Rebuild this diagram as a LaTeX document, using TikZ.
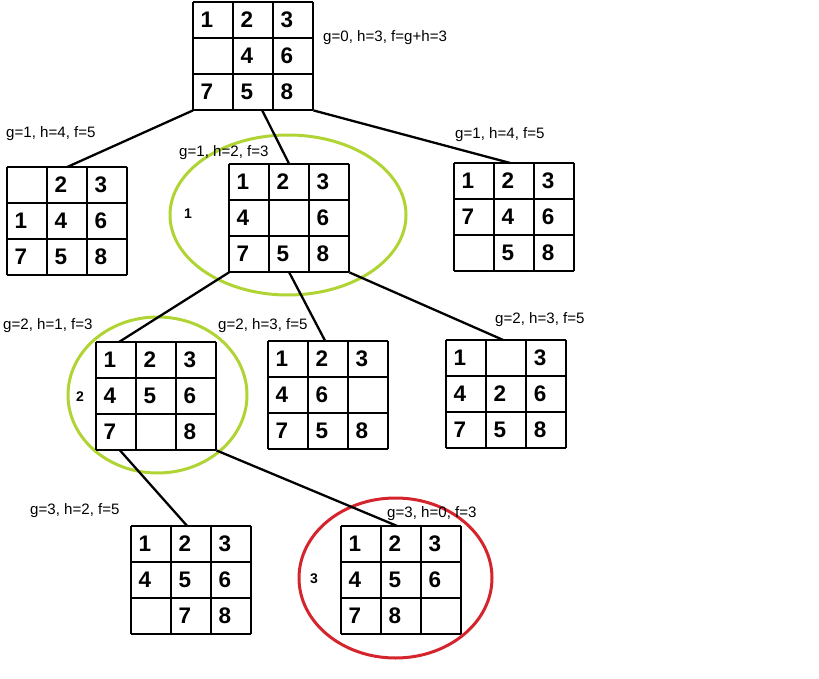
\documentclass[tikz,border=0pt]{standalone}
\usepackage{fontspec}
\setmainfont{Liberation Sans}
\definecolor{lime}{RGB}{176,212,52}
\definecolor{goalred}{RGB}{212,36,44}

\tikzset{
  board/.style={minimum width=120pt, minimum height=108pt, inner sep=0pt, anchor=north west},
  cell/.style={line width=1.2pt},
  tile/.style={inner sep=0pt, font=\fontsize{22.5}{22.5}\bfseries\selectfont},
  score/.style={anchor=base west, inner sep=0pt, font=\fontsize{15.1}{16}\selectfont},
  step no/.style={inner sep=0pt, font=\fontsize{14}{14}\bfseries\selectfont},
  edge/.style={line width=2.3pt},
}

% 3x3 board: name, north west corner, tiles row by row
\newcommand{\drawboard}[3]{%
  \node[board] (#1) at (#2) {};
  \foreach \i in {0,...,3} {
    \draw[cell] ([xshift=\i*40pt]#1.north west) -- ([xshift=\i*40pt]#1.south west);
    \draw[cell] ([yshift=-\i*36pt]#1.north west) -- ([yshift=-\i*36pt]#1.north east);
  }
  \foreach \d [count=\k from 0] in {#3} {
    \pgfmathtruncatemacro{\c}{mod(\k,3)}
    \pgfmathtruncatemacro{\r}{div(\k,3)}
    \node[tile] (#1-\k) at ([xshift=\c*40pt+14pt, yshift=-\r*36pt-18pt]#1.north west) {\d};
  }
}

\begin{document}
\begin{tikzpicture}[x=1pt, y=-1pt]
  \useasboundingbox (0,0) rectangle (819,679);

  % chosen path
  \draw[lime, line width=3pt] (288,215) ellipse [x radius=118, y radius=80];
  \draw[lime, line width=3pt] (157.5,395) ellipse [x radius=89.5, y radius=78];
  \draw[goalred, line width=3pt] (395.5,578) ellipse [x radius=96.5, y radius=80];

  \drawboard{root}{193,2}{1,2,3,{},4,6,7,5,8}
  \drawboard{left}{7,167}{{},2,3,1,4,6,7,5,8}
  \drawboard{mid}{229,164}{1,2,3,4,{},6,7,5,8}
  \drawboard{right}{454,163}{1,2,3,7,4,6,{},5,8}
  \drawboard{midL}{96,342}{1,2,3,4,5,6,7,{},8}
  \drawboard{midM}{268,341}{1,2,3,4,6,{},7,5,8}
  \drawboard{midR}{446,340}{1,{},3,4,2,6,7,5,8}
  \drawboard{lowL}{131,526}{1,2,3,4,5,6,{},7,8}
  \drawboard{goal}{341,526}{1,2,3,4,5,6,7,8,{}}

  \node[score] (s0) at (323,42) {g=0, h=3, f=g+h=3};
  \node[score] (s1) at (6,138) {g=1, h=4, f=5};
  \node[score] (s2) at (179,157) {g=1, h=2, f=3};
  \node[score] (s3) at (455,139) {g=1, h=4, f=5};
  \node[score] (s4) at (3,329) {g=2, h=1, f=3};
  \node[score] (s5) at (218,329) {g=2, h=3, f=5};
  \node[score] (s6) at (495,323) {g=2, h=3, f=5};
  \node[score] (s7) at (30,514) {g=3, h=2, f=5};
  \node[score] (s8) at (387,517) {g=3, h=0, f=3};

  \node[step no] (n1) at (188,214) {1};
  \node[step no] (n2) at (80,397) {2};
  \node[step no] (n3) at (314,579) {3};

  \draw[edge] (root.south west) -- (left.north);
  \draw[edge] ([xshift=9pt]root.south) -- (mid.north);
  \draw[edge] (root.south east) -- ([xshift=-4pt]right.north);
  \draw[edge] (mid.south west) -- ([xshift=23pt]midL.north west);
  \draw[edge] (mid.south) -- ([xshift=-3pt]midM.north);
  \draw[edge] (mid.south east) -- ([xshift=-3pt]midR.north);
  \draw[edge] ([xshift=24pt]midL.south west) -- ([xshift=-4pt]lowL.north);
  \draw[edge] (midL.south east) -- ([xshift=-4pt]goal.north);
\end{tikzpicture}
\end{document}
